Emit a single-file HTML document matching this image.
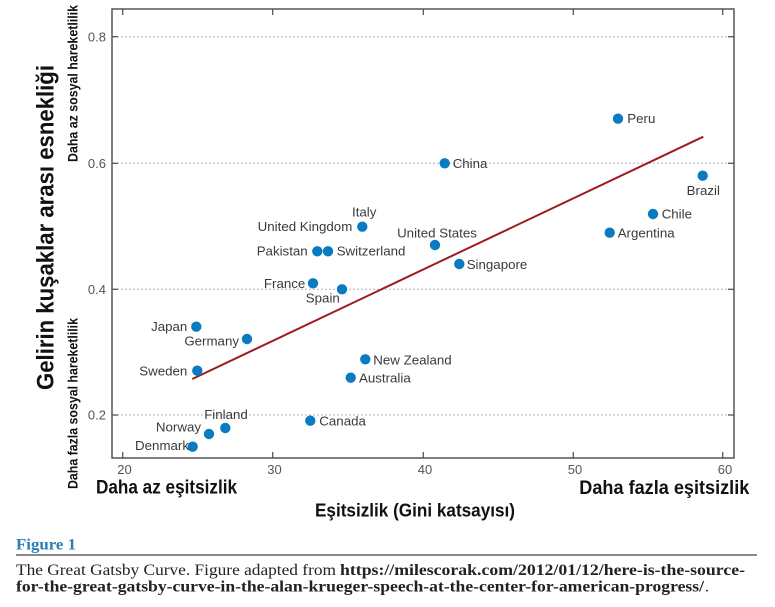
<!DOCTYPE html>
<html>
<head>
<meta charset="utf-8">
<style>
  html,body{margin:0;padding:0;background:#fff;}
  svg{display:block;}
  .lab{font-family:"Liberation Sans",sans-serif;font-size:13.3px;fill:#3a3a3a;}
  .tick{font-family:"Liberation Sans",sans-serif;font-size:13px;fill:#555;}
  .ax{font-family:"Liberation Sans",sans-serif;font-weight:bold;fill:#111;}
  .cap{font-family:"Liberation Serif",serif;font-size:16px;fill:#222;}
</style>
</head>
<body>
<svg width="775" height="607" viewBox="0 0 775 607" xmlns="http://www.w3.org/2000/svg">
  <rect x="0" y="0" width="775" height="607" fill="#fff"/>

  <!-- gridlines -->
  <g stroke="#b0b0b0" stroke-width="1" stroke-dasharray="2,2">
    <line x1="113" y1="36.7" x2="733" y2="36.7"/>
    <line x1="113" y1="163.3" x2="733" y2="163.3"/>
    <line x1="113" y1="289.3" x2="733" y2="289.3"/>
    <line x1="113" y1="415" x2="733" y2="415"/>
  </g>

  <!-- frame -->
  <rect x="112" y="9" width="622" height="449" fill="none" stroke="#555" stroke-width="1.5"/>

  <!-- ticks -->
  <g stroke="#555" stroke-width="1.3">
    <line x1="112" y1="36.7" x2="118" y2="36.7"/>
    <line x1="112" y1="163.3" x2="118" y2="163.3"/>
    <line x1="112" y1="289.3" x2="118" y2="289.3"/>
    <line x1="112" y1="415" x2="118" y2="415"/>
    <line x1="728" y1="36.7" x2="734" y2="36.7"/>
    <line x1="728" y1="163.3" x2="734" y2="163.3"/>
    <line x1="728" y1="289.3" x2="734" y2="289.3"/>
    <line x1="728" y1="415" x2="734" y2="415"/>
    <line x1="122.7" y1="458" x2="122.7" y2="452"/>
    <line x1="272.7" y1="458" x2="272.7" y2="452"/>
    <line x1="423.3" y1="458" x2="423.3" y2="452"/>
    <line x1="573.3" y1="458" x2="573.3" y2="452"/>
    <line x1="722.7" y1="458" x2="722.7" y2="452"/>
    <line x1="122.7" y1="9" x2="122.7" y2="15"/>
    <line x1="272.7" y1="9" x2="272.7" y2="15"/>
    <line x1="423.3" y1="9" x2="423.3" y2="15"/>
    <line x1="573.3" y1="9" x2="573.3" y2="15"/>
    <line x1="722.7" y1="9" x2="722.7" y2="15"/>
  </g>

  <!-- tick labels -->
  <g class="tick" text-anchor="end">
    <text x="106" y="41.3">0.8</text>
    <text x="106" y="168">0.6</text>
    <text x="106" y="294">0.4</text>
    <text x="106" y="419.7">0.2</text>
  </g>
  <g class="tick" text-anchor="middle">
    <text x="124.5" y="474">20</text>
    <text x="274.5" y="474">30</text>
    <text x="425" y="474">40</text>
    <text x="575" y="474">50</text>
    <text x="725" y="474">60</text>
  </g>

  <!-- regression line -->
  <line x1="192.3" y1="379" x2="703.3" y2="136.7" stroke="#9e1c20" stroke-width="2"/>

  <!-- dots -->
  <g fill="#0b7bc1">
    <circle cx="618" cy="118.7" r="5.2"/>
    <circle cx="444.7" cy="163.3" r="5.2"/>
    <circle cx="702.7" cy="175.7" r="5.2"/>
    <circle cx="653" cy="214" r="5.2"/>
    <circle cx="609.7" cy="232.7" r="5.2"/>
    <circle cx="362.3" cy="226.7" r="5.2"/>
    <circle cx="317.3" cy="251.3" r="5.2"/>
    <circle cx="328" cy="251.3" r="5.2"/>
    <circle cx="435" cy="245" r="5.2"/>
    <circle cx="459.3" cy="264" r="5.2"/>
    <circle cx="313" cy="283.3" r="5.2"/>
    <circle cx="342" cy="289.3" r="5.2"/>
    <circle cx="196.3" cy="326.7" r="5.2"/>
    <circle cx="247" cy="339" r="5.2"/>
    <circle cx="197.3" cy="370.7" r="5.2"/>
    <circle cx="365.3" cy="359.3" r="5.2"/>
    <circle cx="350.7" cy="377.7" r="5.2"/>
    <circle cx="310.3" cy="420.7" r="5.2"/>
    <circle cx="225.3" cy="428" r="5.2"/>
    <circle cx="209" cy="434" r="5.2"/>
    <circle cx="192.7" cy="446.7" r="5.2"/>
  </g>

  <!-- point labels -->
  <g class="lab">
    <text x="627.3" y="123">Peru</text>
    <text x="452.7" y="168">China</text>
    <text x="703.3" y="195" text-anchor="middle">Brazil</text>
    <text x="661.7" y="218.5">Chile</text>
    <text x="617.7" y="237.5">Argentina</text>
    <text x="364.2" y="216.7" text-anchor="middle">Italy</text>
    <text x="352.3" y="231" text-anchor="end">United Kingdom</text>
    <text x="307.7" y="255.5" text-anchor="end">Pakistan</text>
    <text x="336.7" y="255.5">Switzerland</text>
    <text x="437" y="237.5" text-anchor="middle">United States</text>
    <text x="466.7" y="269">Singapore</text>
    <text x="305.3" y="288" text-anchor="end">France</text>
    <text x="322.8" y="302.5" text-anchor="middle">Spain</text>
    <text x="187.3" y="331" text-anchor="end">Japan</text>
    <text x="239" y="345.5" text-anchor="end">Germany</text>
    <text x="187.3" y="375.5" text-anchor="end">Sweden</text>
    <text x="373.3" y="364.3">New Zealand</text>
    <text x="359" y="382.7">Australia</text>
    <text x="319.3" y="425.3">Canada</text>
    <text x="226" y="419" text-anchor="middle">Finland</text>
    <text x="201" y="431.7" text-anchor="end">Norway</text>
    <text x="189" y="450" text-anchor="end">Denmark</text>
  </g>

  <!-- y axis titles -->
  <text class="ax" font-size="24" transform="translate(53.5,227.5) rotate(-90)" text-anchor="middle" textLength="325" lengthAdjust="spacingAndGlyphs">Gelirin kuşaklar arası esnekliği</text>
  <text class="ax" font-size="13.5" transform="translate(77.5,83.5) rotate(-90)" text-anchor="middle" textLength="157" lengthAdjust="spacingAndGlyphs">Daha az sosyal hareketlilik</text>
  <text class="ax" font-size="13.5" transform="translate(77.5,403.5) rotate(-90)" text-anchor="middle" textLength="171" lengthAdjust="spacingAndGlyphs">Daha fazla sosyal hareketlilik</text>

  <!-- x axis titles -->
  <text class="ax" font-size="19" x="96" y="493.3" textLength="141" lengthAdjust="spacingAndGlyphs">Daha az eşitsizlik</text>
  <text class="ax" font-size="19" x="579.3" y="494" textLength="170" lengthAdjust="spacingAndGlyphs">Daha fazla eşitsizlik</text>
  <text class="ax" font-size="18" x="315" y="516.7" textLength="200" lengthAdjust="spacingAndGlyphs">Eşitsizlik (Gini katsayısı)</text>

  <!-- caption -->
  <text x="16" y="549.3" font-family="Liberation Serif, serif" font-weight="bold" font-size="16" fill="#2a7fb5" textLength="60" lengthAdjust="spacingAndGlyphs">Figure 1</text>
  <line x1="16" y1="555" x2="757" y2="555" stroke="#444" stroke-width="1.2"/>
  <text class="cap" x="16" y="575" textLength="320" lengthAdjust="spacingAndGlyphs">The Great Gatsby Curve. Figure adapted from</text>
  <text class="cap" x="340" y="575" font-weight="bold" textLength="405" lengthAdjust="spacingAndGlyphs">https://milescorak.com/2012/01/12/here-is-the-source-</text>
  <text class="cap" x="16" y="591.7" font-weight="bold" textLength="688" lengthAdjust="spacingAndGlyphs">for-the-great-gatsby-curve-in-the-alan-krueger-speech-at-the-center-for-american-progress/</text>
  <text class="cap" x="705" y="591.7">.</text>
</svg>
</body>
</html>
